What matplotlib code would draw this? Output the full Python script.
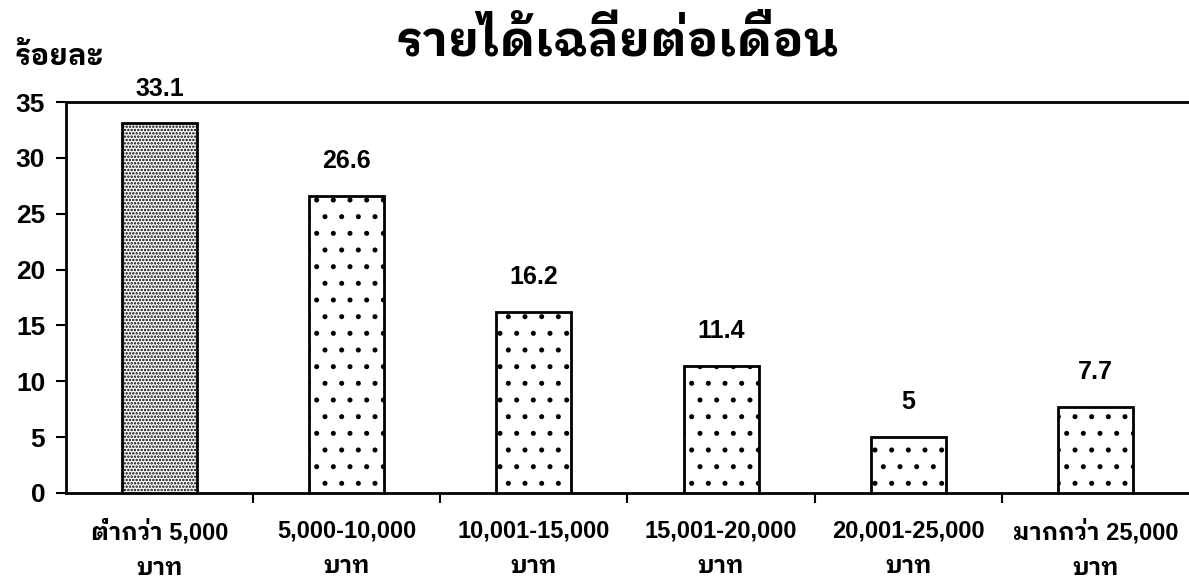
import matplotlib

matplotlib.use('Agg')
import matplotlib.pyplot as plt
import numpy as np

# ข้อมูลรายได้เฉลี่ยต่อเดือน (ร้อยละ)
categories = ['ต่ำกว่า 5,000\nบาท', '5,000-10,000\nบาท', '10,001-15,000\nบาท',
              '15,001-20,000\nบาท', '20,001-25,000\nบาท', 'มากกว่า 25,000\nบาท']
percent = [33.1, 26.6, 16.2, 11.4, 5, 7.7]
value_labels = ['33.1', '26.6', '16.2', '11.4', '5', '7.7']
y_ticks = [0, 5, 10, 15, 20, 25, 30, 35]

plt.rcParams['font.family'] = ['Liberation Sans', 'IBM Plex Sans Thai Looped']
plt.rcParams['font.weight'] = 'bold'
plt.rcParams['hatch.linewidth'] = 1.2

fig = plt.figure(figsize=(11.89, 5.83), dpi=100)
ax = fig.add_axes([0.0555, 0.1544, 0.9445, 0.6706])

x = np.arange(len(categories))
hatches = ['.....'] + ['.'] * (len(categories) - 1)
bars = ax.bar(x, percent, width=0.4, color='white', edgecolor='black',
              linewidth=2, zorder=3)
for b, h in zip(bars, hatches):
    b.set_hatch(h)

for b, v, txt in zip(bars, percent, value_labels):
    ax.annotate(txt, (b.get_x() + b.get_width() / 2, v),
                xytext=(0, 25), textcoords='offset points',
                ha='center', va='center', fontsize=18, fontweight='bold')

ax.set_xlim(-0.5, len(categories) - 0.5)
ax.set_ylim(0, 35)
ax.set_yticks(y_ticks)
ax.set_yticklabels([str(t) for t in y_ticks], fontsize=19, fontweight='bold')
ax.tick_params(axis='y', direction='out', length=7, width=1.5, pad=8)

# ชื่อกลุ่มอยู่ใต้แท่ง ขีดแบ่งกลุ่มอยู่ระหว่างแท่ง
ax.set_xticks(x)
ax.set_xticklabels(categories, fontsize=17, fontweight='bold', linespacing=1.7)
ax.tick_params(axis='x', length=0, pad=19)
ax.set_xticks(x[:-1] + 0.5, minor=True)
ax.tick_params(axis='x', which='minor', direction='out', length=7, width=1.5)

for side in ['left', 'bottom', 'top']:
    ax.spines[side].set_linewidth(2)
ax.spines['right'].set_visible(False)

fig.text(0.519, 0.928, 'รายได้เฉลี่ยต่อเดือน', ha='center', va='center',
         fontsize=35, fontweight='bold')
fig.text(0.012, 0.902, 'ร้อยละ', ha='left', va='center',
         fontsize=21, fontweight='bold')

fig.savefig('out.png')
